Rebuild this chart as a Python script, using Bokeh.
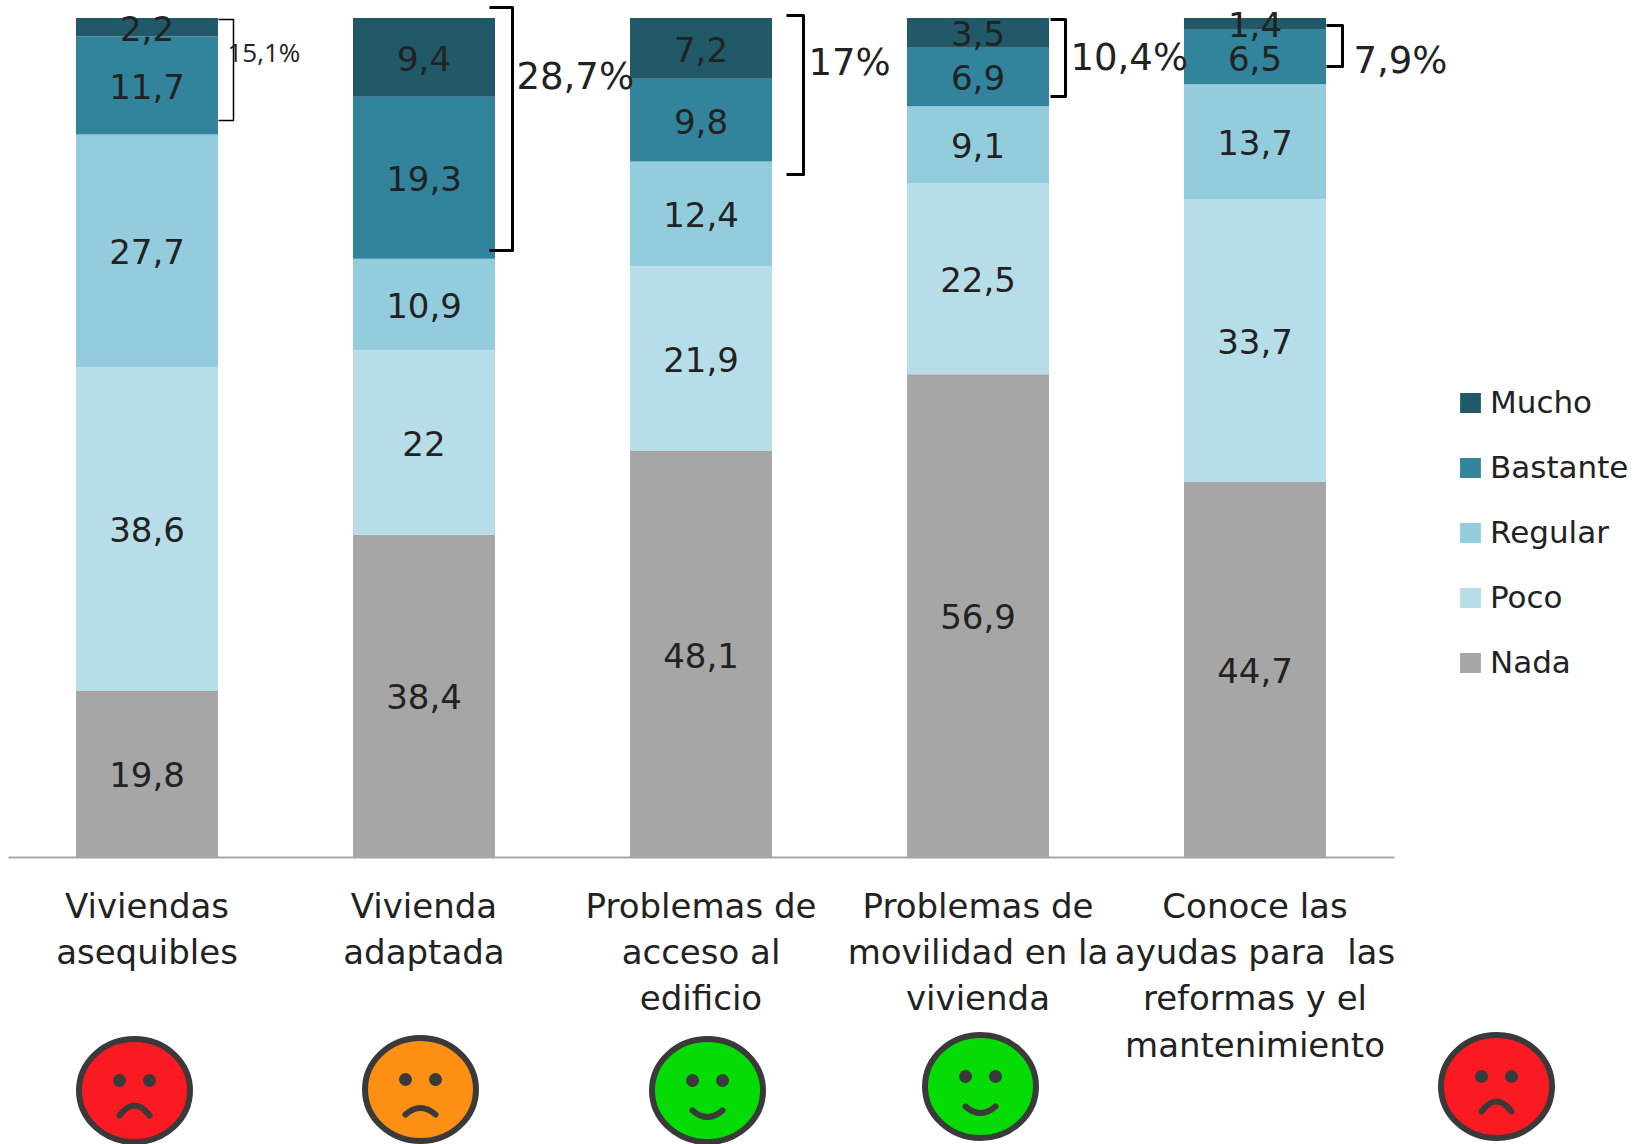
from bokeh.plotting import figure
from bokeh.models import ColumnDataSource, Range1d, FixedTicker, Legend, LegendItem
from bokeh.core.properties import value
from bokeh.embed import file_html
from bokeh.resources import INLINE
import numpy as np

categories = ["Viviendas\nasequibles", "Vivienda\nadaptada", "Problemas de\nacceso al\nedificio",
              "Problemas de\nmovilidad en la\nvivienda",
              "Conoce las\nayudas para\u00a0 las\nreformas y el\nmantenimiento"]
series = ["Nada", "Poco", "Regular", "Bastante", "Mucho"]
nada = [19.8, 38.4, 48.1, 56.9, 44.7]
poco = [38.6, 22, 21.9, 22.5, 33.7]
regular = [27.7, 10.9, 12.4, 9.1, 13.7]
bastante = [11.7, 19.3, 9.8, 6.9, 6.5]
mucho = [2.2, 9.4, 7.2, 3.5, 1.4]
colors = ["#a6a6a6", "#b7dee8", "#93cddd", "#31849b", "#215968"]
bracket_labels = ["15,1%", "28,7%", "17%", "10,4%", "7,9%"]
moods = ["red", "orange", "green", "green", "red"]

W, H = 1646, 1144
X0, CAT = 8, 277.0     # page px of the category band start, and its width
Y0, VAL = 856.5, 8.39  # page px of the baseline, px per percentage point
x_of = lambda px: (px - X0) / CAT
y_of = lambda py: (Y0 - py) / VAL

p = figure(width=W, height=H, output_backend="svg", toolbar_location=None,
           x_range=Range1d(x_of(0), x_of(W)), y_range=Range1d(y_of(H), y_of(0)),
           min_border=0, outline_line_color=None)
p.grid.visible = False
p.yaxis.visible = False

# stacked bars, normalised to 100 %
vals = np.array([nada, poco, regular, bastante, mucho], dtype=float)
shares = vals / vals.sum(axis=0) * 100
xs = np.arange(len(categories)) + 0.5
data = {"x": xs}
for s, row in zip(series, shares):
    data[s] = row
src = ColumnDataSource(data)
rs = p.vbar_stack(series, x="x", width=142 / CAT, color=colors, source=src, line_color=None)

# value labels
tops = np.cumsum(shares, axis=0)
mids = tops - shares / 2
lx, ly, lt = [], [], []
for r, raw in enumerate([nada, poco, regular, bastante, mucho]):
    for c, v in enumerate(raw):
        lx.append(xs[c]); ly.append(mids[r][c]); lt.append(str(v).replace(".", ","))
p.text(lx, ly, text=lt, text_align="center", text_baseline="middle", text_color="#222222",
       text_font=value("DejaVu Sans"), text_font_size="34px", y_offset=1)

# category axis drawn at the baseline
ax = p.xaxis[0]
ax.fixed_location = 0
ax.bounds = (x_of(8), x_of(1394))
ax.ticker = FixedTicker(ticks=list(xs))
ax.major_label_overrides = {float(x): c for x, c in zip(xs, categories)}
ax.major_tick_line_color = None
ax.minor_tick_line_color = None
ax.axis_line_color = "#a6a6a6"
ax.axis_line_width = 2
ax.major_label_standoff = 23
ax.major_label_text_font = "DejaVu Sans"
ax.major_label_text_font_size = "34px"
ax.major_label_text_color = "#222222"
ax.major_label_text_line_height = 1.155

# brackets (page px: left, right, top, bottom, line width)
brackets = [(218, 233, 19, 120, 1.5), (489, 512, 7, 250, 3), (786, 803, 15, 174, 3),
            (1050, 1065, 19, 96, 3), (1326, 1342, 25, 66, 3)]
for l, r, t, b, w in brackets:
    p.line([x_of(l), x_of(r), x_of(r), x_of(l)], [y_of(t), y_of(t), y_of(b), y_of(b)],
           line_color="black", line_width=w, line_join="round")

# bracket texts (page px: left, centre y, font, size)
spots = [(227, 51, "Open Sans", "26px"), (516, 76, "DejaVu Sans", "37px"), (808, 62, "DejaVu Sans", "37px"),
         (1070, 57, "DejaVu Sans", "37px"), (1353, 60, "DejaVu Sans", "37px")]
for t, (l, cy, f, s) in zip(bracket_labels, spots):
    p.text([x_of(l)], [y_of(cy)], text=[t], text_align="left", text_baseline="middle", text_color="#222222",
           text_font=value(f), text_font_size=s)

# faces
face_fill = {"red": "#fb1a22", "orange": "#fd8f14", "green": "#05dc05"}
face_cx = [134, 420, 707, 980, 1496]
face_top = [1037, 1036, 1037, 1033, 1033]
INK = "#3a3a3a"
for m, cx, top in zip(moods, face_cx, face_top):
    cy = top + 53
    p.ellipse([x_of(cx)], [y_of(cy)], width=111, height=103, width_units="screen",
              height_units="screen", fill_color=face_fill[m], line_color=INK, line_width=6)
    p.ellipse([x_of(cx - 15), x_of(cx + 15)], [y_of(cy - 10)] * 2, width=13, height=13, width_units="screen",
              height_units="screen", fill_color=INK, line_color=None)
    if m == "green":
        y0, yc = cy + 20, cy + 33
    elif m == "orange":
        y0, yc = cy + 25, cy + 12
    else:
        y0, yc = cy + 25, cy + 5
    p.quadratic(x0=[x_of(cx - 15)], y0=[y_of(y0)], x1=[x_of(cx + 15)], y1=[y_of(y0)], cx=[x_of(cx)], cy=[y_of(yc)],
                line_color=INK, line_width=6, line_cap="round")

# legend
items = [LegendItem(label=s, renderers=[r]) for s, r in zip(series, rs)][::-1]
leg = Legend(items=items, location=(1457, H - 680), orientation="vertical",
             glyph_width=26, glyph_height=25, label_standoff=7, spacing=29, padding=0, margin=0,
             label_height=36, label_text_font="DejaVu Sans", label_text_font_size="31px",
             label_text_color="#222222", border_line_color=None, background_fill_color=None)
p.add_layout(leg)

open("out.html", "w").write(file_html(p, INLINE))
